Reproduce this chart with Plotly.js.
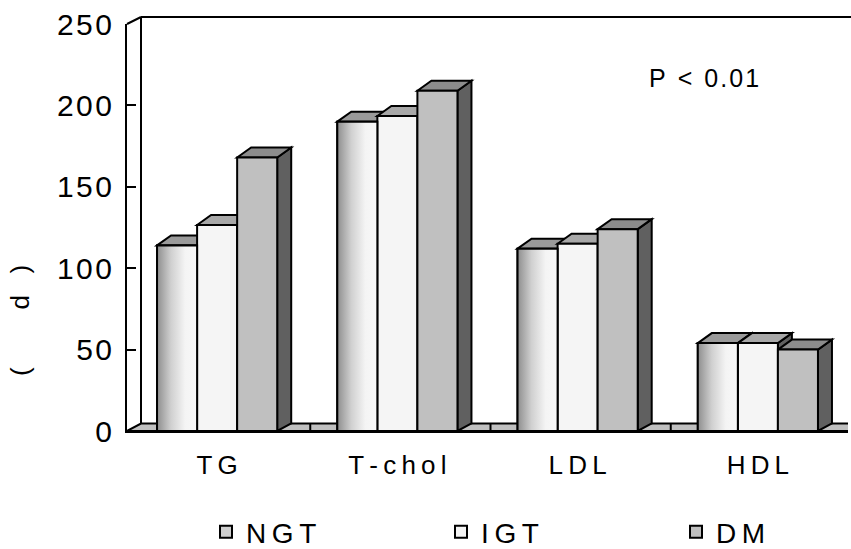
<!DOCTYPE html>
<html><head><meta charset="utf-8">
<script src="https://cdn.plot.ly/plotly-3.0.1.min.js"></script>
<style>html,body{margin:0;padding:0;background:#fff}</style>
</head><body>
<div id="chart" style="width:851px;height:549px"></div>
<script>
// ---- data ----
const categories = ['TG', 'T-chol', 'LDL', 'HDL'];
const seriesNames = ['NGT', 'IGT', 'DM'];
const ngtValues = [114, 190, 112, 54];
const igtValues = [126.5, 193.5, 115, 54];
const dmValues = [168, 209, 124, 50];
const yTickVals = [0, 50, 100, 150, 200, 250];
const yTickLabels = ['0', '50', '100', '150', '200', '250'];
const pValueText = 'P < 0.01';
const yTitleText = '( d )';

// ---- helpers ----
const THIN = '\u2009', HAIR = '\u200a';
const spaced = (s, gap) => s.split('').map(ch => ch === ' ' ? '\u00a0' : ch).join(gap || THIN);
const FONT = 'Liberation Sans, Arial, sans-serif';

const W = 851, H = 549, mL = 127, mR = 3, mT = 24, mB = 118;
const plotW = W - mL - mR, plotH = H - mT - mB;
const xMin = -0.5, xMax = categories.length - 0.5, yMax = 250;
const pxPerX = plotW / (xMax - xMin), pxPerY = plotH / yMax;
const depthX = 14 / pxPerX, depthYBar = 10 / pxPerY, depthYFloor = 7.5 / pxPerY;
const bargap = 1 / 3;
const nSeries = seriesNames.length;
const barW = (1 - bargap) / nSeries;
const xs = categories.map((c, i) => i);
const allSeries = [ngtValues, igtValues, dmValues];
const frontColors = ['#cfcfcf', '#f5f5f5', '#c0c0c0'];
const topColors = ['#9a9a9a', '#a8a8a8', '#8c8c8c'];
const sideColor = '#606060';

const traces = allSeries.map((vals, g) => ({
  type: 'bar', x: xs, y: vals, name: spaced(seriesNames[g]),
  marker: {color: frontColors[g], line: {color: '#000', width: 2}},
  hoverinfo: 'skip'
}));

// gradient overlay for NGT front faces (computed from data + bar layout)
xs.forEach((c, i) => {
  const L = c - 0.5 + bargap / 2, R = L + barW, v = ngtValues[i];
  traces.push({
    type: 'scatter', mode: 'lines', x: [L, R, R, L, L], y: [0, 0, v, v, 0],
    fill: 'toself', showlegend: false, hoverinfo: 'skip',
    line: {color: '#000', width: 2},
    fillgradient: {type: 'horizontal', colorscale: [[0, '#8e8e8e'], [0.35, '#d0d0d0'], [0.7, '#f4f4f4'], [1, '#f8f8f8']]}
  });
});

const shapes = [];
// floor
shapes.push({type: 'path', layer: 'below', xref: 'x', yref: 'y',
  path: `M${xMin},0 L${xMax + 1},0 L${xMax + 1 + depthX},${depthYFloor} L${xMin + depthX},${depthYFloor} Z`,
  fillcolor: '#c0c0c0', line: {color: '#000', width: 2}});
for (let k = 0; k < categories.length - 1; k++) {
  const bx = k + 0.5 + 3 / pxPerX;
  shapes.push({type: 'line', layer: 'below', xref: 'x', yref: 'y', x0: bx, x1: bx, y0: 0, y1: depthYFloor,
    line: {color: '#000', width: 2}});
}
// 3D side and top faces of every bar
xs.forEach((c, i) => {
  for (let g = 0; g < nSeries; g++) {
    const v = allSeries[g][i];
    const L = c - 0.5 + bargap / 2 + g * barW, R = L + barW;
    shapes.push({type: 'path', layer: 'below', xref: 'x', yref: 'y',
      path: `M${R},0 L${R + depthX},${depthYFloor} L${R + depthX},${v + depthYBar} L${R},${v} Z`,
      fillcolor: sideColor, line: {color: '#000', width: 2}});
    shapes.push({type: 'path', layer: 'below', xref: 'x', yref: 'y',
      path: `M${L},${v} L${L + depthX},${v + depthYBar} L${R + depthX},${v + depthYBar} L${R},${v} Z`,
      fillcolor: topColors[g], line: {color: '#000', width: 2}});
  }
});
// back wall (paper coords)
const wdx = 14 / plotW, wdy = 7 / plotH;
shapes.push({type: 'line', xref: 'paper', yref: 'paper', x0: wdx, x1: wdx, y0: 7.5 / plotH, y1: 1 + wdy, line: {color: '#000', width: 2}});
shapes.push({type: 'line', xref: 'paper', yref: 'paper', x0: wdx, x1: 1.05, y0: 1 + wdy, y1: 1 + wdy, line: {color: '#000', width: 2}});
shapes.push({type: 'line', xref: 'paper', yref: 'paper', x0: 0, x1: wdx, y0: 1, y1: 1 + wdy, line: {color: '#000', width: 2}});

const layout = {
  width: W, height: H,
  margin: {l: mL, r: mR, t: mT, b: mB, pad: 0, autoexpand: false},
  paper_bgcolor: '#fff', plot_bgcolor: 'rgba(0,0,0,0)',
  barmode: 'group', bargap: bargap, bargroupgap: 0,
  font: {family: FONT, color: '#000'},
  xaxis: {
    range: [xMin, xMax], tickmode: 'array', tickvals: xs, ticktext: categories.map(s => spaced(s, THIN)),
    showgrid: false, zeroline: false, showline: true, linecolor: '#000', linewidth: 2,
    ticks: '', ticklabelstandoff: 10, tickfont: {size: 26, family: FONT, color: '#000'}, fixedrange: true,
    automargin: false
  },
  yaxis: {
    range: [0, yMax], tickmode: 'array', tickvals: yTickVals, ticktext: yTickLabels.map(s => spaced(s, HAIR)),
    showgrid: false, zeroline: false, showline: true, linecolor: '#000', linewidth: 2,
    ticks: 'inside', ticklen: 9, tickwidth: 2, tickcolor: '#000', ticklabelstandoff: 7,
    tickfont: {size: 30, family: FONT, color: '#000'}, fixedrange: true, automargin: false
  },
  shapes: shapes,
  annotations: [
    {xref: 'paper', yref: 'paper', x: (704 - mL) / plotW, y: (431 - 78) / plotH, xanchor: 'center', yanchor: 'middle',
      text: 'P\u00a0\u2009<\u00a0\u20090\u200a.\u200a0\u200a1', showarrow: false, font: {size: 25, family: FONT, color: '#000'}},
    {xref: 'paper', yref: 'paper', x: (20 - mL) / plotW, y: (431 - 321) / plotH, xanchor: 'center', yanchor: 'middle',
      textangle: -90, text: yTitleText.replace(' d ', '\u00a0\u00a0\u00a0\u00a0\u00a0\u00a0\u00a0\u00a0d\u00a0\u00a0\u00a0'),
      showarrow: false, font: {size: 26, family: FONT, color: '#000'}}
  ],
  legend: {orientation: 'h', x: (206 - mL) / plotW, xanchor: 'left', y: (431 - 532) / plotH, yanchor: 'middle',
    font: {size: 28, family: FONT, color: '#000'}, entrywidth: 190, traceorder: 'normal', bgcolor: 'rgba(0,0,0,0)'},
  showlegend: true
};

Plotly.newPlot('chart', traces, layout, {displayModeBar: false, staticPlot: true});
</script>
</body></html>
